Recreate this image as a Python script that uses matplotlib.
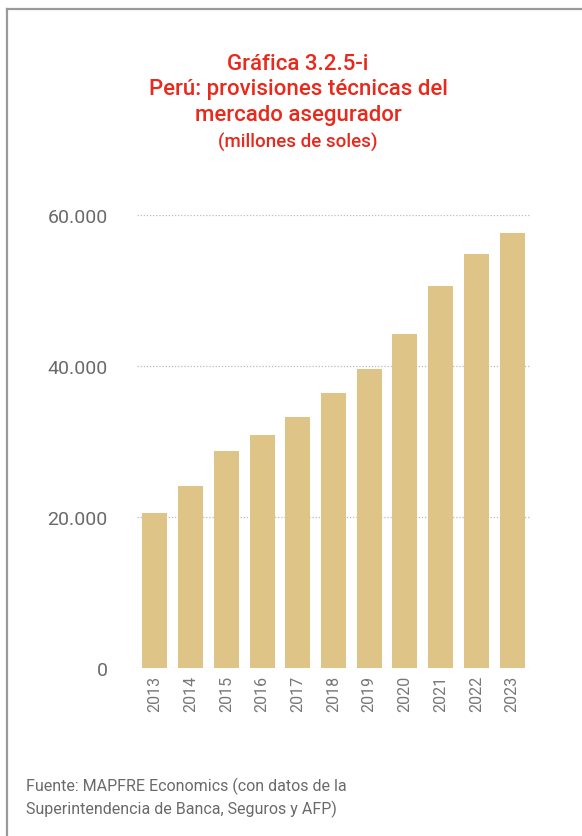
import matplotlib
matplotlib.use("Agg")
import matplotlib.pyplot as plt
from matplotlib.lines import Line2D
from matplotlib.ticker import FuncFormatter

years = ["2013", "2014", "2015", "2016", "2017", "2018", "2019", "2020", "2021", "2022", "2023"]
values = [20500, 24100, 28700, 30800, 33200, 36400, 39600, 44200, 50600, 54800, 57600]
yticks = [0, 20000, 40000, 60000]

W, H = 582, 837
fig = plt.figure(figsize=(W / 100, H / 100), dpi=100)
plt.rcParams['font.family'] = ['Roboto', 'DejaVu Sans']

# frame lines (top and left)
fig.add_artist(Line2D([7 / W, 1], [1 - 10 / H, 1 - 10 / H], color='#9a9a9a', lw=1.6))
fig.add_artist(Line2D([7 / W, 7 / W], [0, 1 - 10 / H], color='#9a9a9a', lw=1.6))

ax = fig.add_axes([137 / W, 1 - 669 / H, (530 - 137) / W, (669 - 216) / H])
ax.bar(range(len(years)), values, width=0.7, color='#DEC487', zorder=2)
ax.set_xlim(-0.5, len(years) - 0.5)
ax.set_ylim(0, 60000)
ax.set_yticks(yticks)
ax.yaxis.set_major_formatter(FuncFormatter(lambda v, p: f"{int(v):,}".replace(",", ".")))
ax.set_xticks(range(len(years)))
ax.set_xticklabels(years, rotation=90)
for s in ax.spines.values():
    s.set_visible(False)
ax.tick_params(axis='y', length=0, pad=21, labelsize=14, labelcolor='#6a6a6a')
ax.tick_params(axis='x', length=0, pad=5, labelsize=11.5, labelcolor='#777777')
for yv in yticks:
    ax.axhline(yv, color='#bbbbbb', lw=0.9, ls=(0, (1, 1.5)), zorder=1)

red = '#E8291C'
fig.text(298 / W, 1 - 65 / H, "Gráfica 3.2.5-i", ha='center', va='center', fontsize=16, color=red, fontweight='medium')
fig.text(298 / W, 1 - 90 / H, "Perú: provisiones técnicas del", ha='center', va='center', fontsize=16, color=red, fontweight='medium')
fig.text(298 / W, 1 - 116 / H, "mercado asegurador", ha='center', va='center', fontsize=16, color=red, fontweight='medium')
fig.text(298 / W, 1 - 142 / H, "(millones de soles)", ha='center', va='center', fontsize=13.5, color=red, fontweight='medium')

fig.text(26 / W, 1 - 786 / H, "Fuente: MAPFRE Economics (con datos de la", ha='left', va='center', fontsize=11.5, color='#6a6a6a')
fig.text(26 / W, 1 - 809 / H, "Superintendencia de Banca, Seguros y AFP)", ha='left', va='center', fontsize=11.5, color='#6a6a6a')

fig.savefig("out.png", dpi=100)
